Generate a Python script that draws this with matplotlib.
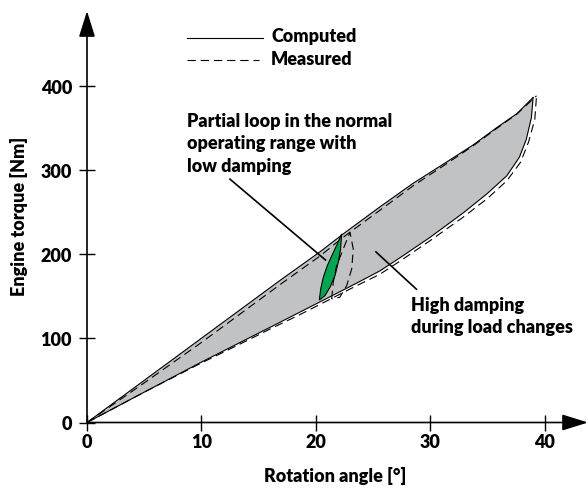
import matplotlib
matplotlib.use("Agg")
import matplotlib.pyplot as plt
import numpy as np

plt.rcParams['font.family'] = ['Lato', 'DejaVu Sans']
plt.rcParams['font.weight'] = 'heavy'
plt.rcParams['lines.scale_dashes'] = False

# ---- data ----
angle_upper_computed = [0, 5, 10, 12.5, 16.9, 20.4, 22.3, 25.6, 28.5, 31.4, 33.8, 35.8, 37.6, 39.0]
torque_upper_computed = [0, 50, 100, 125, 169, 203, 223, 256, 284, 309, 330, 350, 367, 386]

angle_lower_computed = [0, 5, 9.9, 14.25, 16, 18.6, 21.2, 23.5, 25.6, 27.4, 30, 32.9, 35, 36.7, 37.8, 38.4, 38.85, 39.0]
torque_lower_computed = [0, 36, 71, 101, 113, 131, 149, 165, 180, 196, 220, 249, 272, 293, 315, 336, 362, 386]

angle_upper_measured = [0, 5, 10, 12.5, 16.9, 20.4, 22.3, 25.6, 28.5, 31.4, 33.8, 35.8, 37.6, 39.3]
torque_upper_measured = [0, 47, 95, 120, 164, 198, 219, 252, 281, 307, 329, 349, 366.5, 388]

angle_lower_measured = [0, 5, 9.9, 14.25, 16, 18.6, 21.2, 23.5, 25.6, 27.4, 30, 32.9, 35, 36.7, 37.9, 38.6, 39.15, 39.3]
torque_lower_measured = [0, 36, 70, 99, 111, 128, 146, 162, 176, 192, 216, 244, 266, 287, 309, 333, 360, 388]

loop_angle_computed = [20.31, 20.43, 20.66, 21.01, 21.47, 21.88, 22.26, 22.17, 21.97, 21.68, 21.24, 20.80, 20.31]
loop_torque_computed = [145.5, 158.6, 172.4, 186.3, 200.1, 212.0, 223.9, 206.1, 190.2, 174.4, 160.5, 150.6, 145.5]

loop_angle_measured = [21.39, 21.53, 21.82, 22.4, 22.99, 23.28, 23.14, 22.7, 22.1, 21.39]
loop_torque_measured = [146.7, 166.5, 186.2, 206, 225.9, 206, 182.3, 162.5, 148.7, 146.7]

x_ticks = [0, 10, 20, 30, 40]
y_ticks = [0, 100, 200, 300, 400]

series_labels = ["Computed", "Measured"]
x_label = "Rotation angle [°]"
y_label = "Engine torque [Nm]"
note_partial = "Partial loop in the normal\noperating range with\nlow damping"
note_high = "High damping\nduring load changes"

# ---- figure ----
W, H = 588, 489
fig = plt.figure(figsize=(W / 100, H / 100), dpi=100)
ax = fig.add_axes([87 / W, (H - 423.5) / H, (W - 87) / W, (423.5 - 12) / H])
ax.set_xlim(0, 43.8)
ax.set_ylim(0, 488.7)
for s in ax.spines.values():
    s.set_visible(False)
ax.patch.set_visible(False)

gray = '#c1c2c4'
green = '#00a651'
dash = (0, (6, 3.5))
fw = 'heavy'

# gray hysteresis area
poly_x = list(angle_upper_computed) + list(angle_lower_computed[::-1])
poly_y = list(torque_upper_computed) + list(torque_lower_computed[::-1])
ax.fill(poly_x, poly_y, color=gray, lw=0, zorder=1)

ax.plot(angle_upper_computed, torque_upper_computed, color='black', lw=0.8, zorder=3)
ax.plot(angle_lower_computed, torque_lower_computed, color='black', lw=0.8, zorder=3)
ax.plot(angle_upper_measured, torque_upper_measured, color='black', lw=0.8, linestyle=dash, zorder=3)
ax.plot(angle_lower_measured, torque_lower_measured, color='black', lw=0.8, linestyle=dash, zorder=3)

# partial loop
ax.fill(loop_angle_computed, loop_torque_computed, facecolor=green, edgecolor='black', lw=0.8, zorder=4)
ax.plot(loop_angle_measured, loop_torque_measured, color='black', lw=0.8, linestyle=dash, zorder=5)

# annotation leader lines
ax.plot([12.5, 20.85], [289, 193], color='black', lw=1.2, zorder=6)
ax.plot([25.26, 28.8], [202.6, 158.3], color='black', lw=1.2, zorder=6)

fs = 13
ax.text(8.74, 332, note_partial, ha='left', va='center', fontsize=fs, fontweight=fw,
        linespacing=1.39, zorder=7)
ax.text(28.3, 127, note_high, ha='left', va='center', fontsize=fs, fontweight=fw,
        linespacing=1.33, zorder=7)

# legend drawn manually
ax.plot([8.74, 15.4], [456.5, 456.5], color='black', lw=0.8, clip_on=False)
ax.plot([8.74, 15.0], [430.5, 430.5], color='black', lw=0.8, linestyle=dash, clip_on=False)
ax.text(16.1, 460, series_labels[0], ha='left', va='center', fontsize=fs, fontweight=fw)
ax.text(16.1, 432, series_labels[1], ha='left', va='center', fontsize=fs, fontweight=fw)

# axes with arrows
arrow = dict(arrowstyle='-|>,head_length=1.6,head_width=0.5', color='black', lw=1.2,
             shrinkA=0, shrinkB=0, mutation_scale=10)
ax.annotate('', xy=(1, 0), xytext=(0, 0), xycoords='axes fraction', arrowprops=arrow,
            annotation_clip=False)
ax.annotate('', xy=(0, 1), xytext=(0, 0), xycoords='axes fraction', arrowprops=arrow,
            annotation_clip=False)

ax.set_xticks(x_ticks)
ax.set_yticks(y_ticks)
ax.tick_params(direction='inout', length=11.5, width=1.0, labelsize=fs, pad=2)
ax.tick_params(axis='y', pad=5)
for lbl in ax.get_xticklabels() + ax.get_yticklabels():
    lbl.set_fontweight(fw)

fig.text(335 / W, 1 - 476 / H, x_label, ha='center', va='center', fontsize=fs, fontweight=fw)
fig.text(19 / W, 1 - 216 / H, y_label, ha='center', va='center', rotation=90,
         fontsize=fs, fontweight=fw)

fig.savefig('out.png', dpi=100)
